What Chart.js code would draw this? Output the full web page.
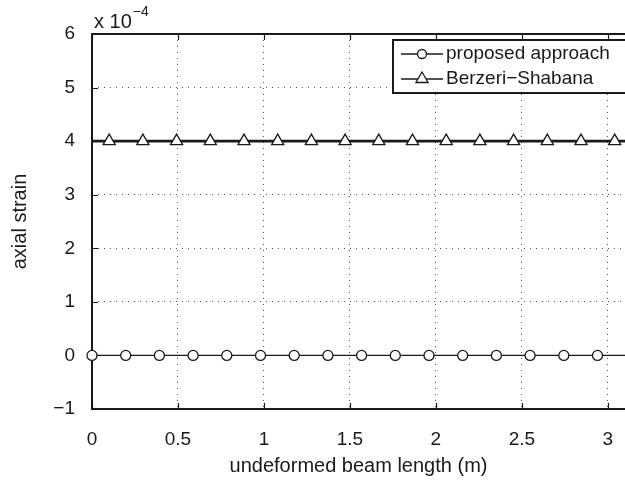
<!DOCTYPE html>
<html>
<head>
<meta charset="utf-8">
<script src="https://cdn.jsdelivr.net/npm/chart.js@4"></script>
<style>
  body { margin: 0; background: #fff; }
  #wrap { width: 625px; height: 486px; }
</style>
</head>
<body>
<div id="wrap"><canvas id="strainChart" width="625" height="486"></canvas></div>
<script>
// beam position (m) of each sample
const proposedX = [0, 0.196, 0.392, 0.588, 0.784, 0.98, 1.176, 1.372, 1.568, 1.764, 1.96, 2.156, 2.352, 2.548, 2.744, 2.94, 3.1];
const proposedStrain = [0, 0, 0, 0, 0, 0, 0, 0, 0, 0, 0, 0, 0, 0, 0, 0, 0];
const proposedMarker = [5, 5, 5, 5, 5, 5, 5, 5, 5, 5, 5, 5, 5, 5, 5, 5, 0];

const berzeriX = [0, 0.1, 0.296, 0.492, 0.688, 0.884, 1.08, 1.276, 1.472, 1.668, 1.864, 2.06, 2.256, 2.452, 2.648, 2.844, 3.04, 3.1];
const berzeriStrain = [4e-4, 4e-4, 4e-4, 4e-4, 4e-4, 4e-4, 4e-4, 4e-4, 4e-4, 4e-4, 4e-4, 4e-4, 4e-4, 4e-4, 4e-4, 4e-4, 4e-4, 4e-4];
const berzeriMarker = [0, 7, 7, 7, 7, 7, 7, 7, 7, 7, 7, 7, 7, 7, 7, 7, 7, 0];

const seriesLabels = ['proposed approach', 'Berzeri\u2212Shabana'];
const xTickValues = [0, 0.5, 1, 1.5, 2, 2.5, 3];
const yTickValues = [-1e-4, 0, 1e-4, 2e-4, 3e-4, 4e-4, 5e-4, 6e-4];
const yExponent = -4;

const FONT = '"Liberation Sans", Arial, Helvetica, sans-serif';
const INK = '#1a1a1a';

function toPoints(xs, ys) {
    return xs.map((x, i) => ({ x: x, y: ys[i] }));
}

function fmtY(v) {
    const n = Math.round(v / Math.pow(10, yExponent));
    return n < 0 ? '\u2212' + Math.abs(n) : String(n);
}

// axes frame, inward ticks, exponent label and the legend box
const matlabAxes = {
    id: 'matlabAxes',
    beforeDatasetsDraw(chart) {
        const ctx = chart.ctx;
        const a = chart.chartArea;
        const xs = chart.scales.x, ys = chart.scales.y;
        ctx.save();
        ctx.strokeStyle = INK;
        ctx.lineWidth = 2;
        ctx.beginPath();
        ctx.moveTo(a.left, a.top);
        ctx.lineTo(a.right + 2, a.top);
        ctx.moveTo(a.left, a.top - 1);
        ctx.lineTo(a.left, a.bottom + 1);
        ctx.moveTo(a.left - 1, a.bottom);
        ctx.lineTo(a.right + 2, a.bottom);
        ctx.stroke();
        ctx.lineWidth = 1.2;
        ctx.beginPath();
        xTickValues.forEach(v => {
            const px = Math.round(xs.getPixelForValue(v)) + 0.5;
            ctx.moveTo(px, a.bottom);
            ctx.lineTo(px, a.bottom - 6);
            ctx.moveTo(px, a.top);
            ctx.lineTo(px, a.top + 6);
        });
        yTickValues.forEach(v => {
            const py = Math.round(ys.getPixelForValue(v)) + 0.5;
            ctx.moveTo(a.left, py);
            ctx.lineTo(a.left + 6, py);
        });
        ctx.stroke();
        ctx.restore();
    },
    afterDraw(chart) {
        const ctx = chart.ctx;
        const a = chart.chartArea;
        ctx.save();
        ctx.fillStyle = INK;
        ctx.textBaseline = 'alphabetic';
        ctx.font = '20px ' + FONT;
        ctx.fillText('x 10', a.left + 2, a.top - 6);
        const w = ctx.measureText('x 10').width;
        ctx.font = '14px ' + FONT;
        ctx.fillText('\u2212' + Math.abs(yExponent), a.left + 2 + w + 1, a.top - 18);

        // legend
        const box = { left: 393, top: 40, right: 640, bottom: 93 };
        ctx.fillStyle = '#fff';
        ctx.fillRect(box.left, box.top, box.right - box.left, box.bottom - box.top);
        ctx.strokeStyle = INK;
        ctx.lineWidth = 2;
        ctx.strokeRect(box.left, box.top, box.right - box.left, box.bottom - box.top);
        const rows = [54, 79];
        chart.data.datasets.forEach((ds, i) => {
            const y = rows[i];
            ctx.strokeStyle = INK;
            ctx.lineWidth = 1.3;
            ctx.beginPath();
            ctx.moveTo(401, y);
            ctx.lineTo(443, y);
            ctx.stroke();
            ctx.fillStyle = '#fff';
            Chart.helpers.drawPoint(ctx, {
                pointStyle: ds.pointStyle,
                radius: i === 0 ? 4.5 : 7,
                borderWidth: 1.3,
                rotation: 0
            }, 422, y);
            ctx.fillStyle = INK;
            ctx.font = '19px ' + FONT;
            ctx.textBaseline = 'middle';
            ctx.fillText(ds.label, 446, y);
        });
        ctx.restore();
    }
};

new Chart(document.getElementById('strainChart'), {
    type: 'line',
    data: {
        datasets: [{
            label: seriesLabels[0],
            data: toPoints(proposedX, proposedStrain),
            borderColor: INK,
            borderWidth: 1.3,
            pointStyle: 'circle',
            pointRadius: proposedMarker,
            pointBackgroundColor: '#fff',
            pointBorderColor: INK,
            pointBorderWidth: 1.3,
            tension: 0
        }, {
            label: seriesLabels[1],
            data: toPoints(berzeriX, berzeriStrain),
            borderColor: INK,
            borderWidth: 2.6,
            pointStyle: 'triangle',
            pointRadius: berzeriMarker,
            pointBackgroundColor: '#fff',
            pointBorderColor: INK,
            pointBorderWidth: 1.3,
            tension: 0
        }]
    },
    options: {
        responsive: false,
        animation: false,
        clip: false,
        layout: { autoPadding: false, padding: { top: 34, right: 0, bottom: 0, left: 0 } },
        scales: {
            x: {
                type: 'linear',
                min: 0,
                max: 3.1,
                afterFit: s => { s.height = 77; s.paddingLeft = 0; s.paddingRight = 0; },
                afterBuildTicks: s => { s.ticks = xTickValues.map(v => ({ value: v })); },
                grid: { color: '#555', lineWidth: 1, drawTicks: false },
                border: { display: false, dash: [1, 5] },
                ticks: {
                    padding: 19,
                    color: INK,
                    font: { family: FONT, size: 19 },
                    maxRotation: 0,
                    callback: v => String(v)
                },
                title: {
                    display: true,
                    text: 'undeformed beam length (m)',
                    color: INK,
                    font: { family: FONT, size: 20 },
                    padding: { top: 0, bottom: 8 }
                }
            },
            y: {
                type: 'linear',
                min: -1e-4,
                max: 6e-4,
                afterFit: s => { s.width = 92; s.paddingTop = 0; s.paddingBottom = 0; },
                afterBuildTicks: s => { s.ticks = yTickValues.map(v => ({ value: v })); },
                grid: { color: '#555', lineWidth: 1, drawTicks: false },
                border: { display: false, dash: [1, 5] },
                ticks: {
                    padding: 17,
                    color: INK,
                    font: { family: FONT, size: 19 },
                    callback: v => fmtY(v)
                },
                title: {
                    display: true,
                    text: 'axial strain',
                    color: INK,
                    font: { family: FONT, size: 20 },
                    padding: { top: 8, bottom: 0 }
                }
            }
        },
        plugins: {
            legend: { display: false },
            tooltip: { enabled: false }
        }
    },
    plugins: [matlabAxes]
});
</script>
</body>
</html>
